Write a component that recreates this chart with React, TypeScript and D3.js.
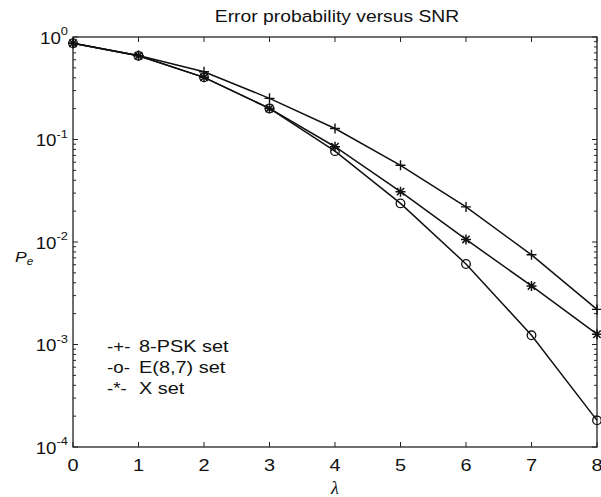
import React from "react";
import * as d3 from "d3";

const lambdas = [0, 1, 2, 3, 4, 5, 6, 7, 8];
const pskSet = [0.87, 0.66, 0.458, 0.252, 0.128, 0.056, 0.022, 0.0075, 0.0022];
const e87Set = [0.87, 0.655, 0.404, 0.201, 0.077, 0.0238, 0.0061, 0.00123, 0.000182];
const xSet = [0.87, 0.655, 0.404, 0.201, 0.085, 0.031, 0.0106, 0.00373, 0.00126];
const yExponents = [0, -1, -2, -3, -4];
const legendItems = [
  { mark: "-+-", label: "8-PSK set" },
  { mark: "-o-", label: "E(8,7) set" },
  { mark: "-*-", label: "X set" },
];

const W = 601;
const H = 497;
const margin = { top: 37, right: 4, bottom: 50, left: 73 };
const SX = 1.17; // the source figure is stretched horizontally
const FONT = "'Liberation Sans', Arial, Helvetica, sans-serif";
const INK = "#111";

const Txt = ({ x, y, size, anchor = "start", children, style = {} }: any) => (
  <text
    transform={`translate(${x},${y}) scale(${SX},1)`}
    fontSize={size}
    fontFamily={FONT}
    textAnchor={anchor}
    fill={INK}
    style={style}
  >
    {children}
  </text>
);

const Marker = ({ kind, x, y }: any) => {
  const s = 5;
  if (kind === "plus")
    return <path d={`M${x - s},${y}H${x + s}M${x},${y - s}V${y + s}`} stroke={INK} strokeWidth={1.4} />;
  if (kind === "circle")
    return <circle cx={x} cy={y} r={4.3} fill="none" stroke={INK} strokeWidth={1.3} />;
  const d = 3.7;
  return (
    <path
      d={`M${x - s},${y}H${x + s}M${x},${y - s}V${y + s}M${x - d},${y - d}L${x + d},${y + d}M${x - d},${y + d}L${x + d},${y - d}`}
      stroke={INK}
      strokeWidth={1.5}
    />
  );
};

export default function App() {
  const innerW = W - margin.left - margin.right;
  const innerH = H - margin.top - margin.bottom;
  const x = d3.scaleLinear().domain([0, 8]).range([margin.left, margin.left + innerW]);
  const y = d3.scaleLog().domain([1e-4, 1]).range([margin.top + innerH, margin.top]);

  const series = [
    { values: pskSet, kind: "plus" },
    { values: xSet, kind: "star" },
    { values: e87Set, kind: "circle" },
  ];
  const line = d3
    .line<number>()
    .x((_, i) => x(lambdas[i]))
    .y((v) => y(v));

  const minor: number[] = [];
  yExponents.slice(0, -1).forEach((e) => {
    for (let k = 2; k <= 9; k++) minor.push(k * Math.pow(10, e - 1));
  });

  const x0 = x(0), x1 = x(8), yb = y(1e-4), yt = y(1);

  return (
    <div style={{ position: "absolute", left: 0, top: 0 }}>
      <svg width={W} height={H} style={{ display: "block", background: "#fff" }}>
        <rect x={0} y={0} width={W} height={H} fill="#fff" />
        {/* frame */}
        <rect x={x0} y={yt} width={x1 - x0} height={yb - yt} fill="none" stroke="#222" strokeWidth={1.3} />
        {/* x ticks, inside on bottom and top */}
        {lambdas.map((l) => (
          <g key={"xt" + l}>
            <line x1={x(l)} x2={x(l)} y1={yb} y2={yb - 5} stroke="#222" />
            <line x1={x(l)} x2={x(l)} y1={yt} y2={yt + 5} stroke="#222" />
            <Txt x={x(l)} y={471} size={17} anchor="middle">{l}</Txt>
          </g>
        ))}
        {/* y ticks */}
        {yExponents.map((e) => {
          const yy = y(Math.pow(10, e));
          return (
            <g key={"yt" + e}>
              <line x1={x0} x2={x0 + 5} y1={yy} y2={yy} stroke="#222" />
              <line x1={x1} x2={x1 - 5} y1={yy} y2={yy} stroke="#222" />
              <Txt x={x0 - 5} y={yy + 6.5} size={16} anchor="end">
                <tspan>10</tspan>
                <tspan fontSize={11} dy={-8.5}>{e}</tspan>
              </Txt>
            </g>
          );
        })}
        {minor.map((v, i) => (
          <g key={"mt" + i}>
            <line x1={x0} x2={x0 + 3} y1={y(v)} y2={y(v)} stroke="#222" />
            <line x1={x1} x2={x1 - 3} y1={y(v)} y2={y(v)} stroke="#222" />
          </g>
        ))}
        {/* series */}
        {series.map((s, si) => (
          <g key={"s" + si}>
            <path d={line(s.values) || ""} fill="none" stroke={INK} strokeWidth={1.5} />
            {s.values.map((v, i) => (
              <Marker key={i} kind={s.kind} x={x(lambdas[i])} y={y(v)} />
            ))}
          </g>
        ))}
        {/* legend */}
        {legendItems.map((it, i) => (
          <g key={"lg" + i}>
            <Txt x={107} y={352 + i * 20.8} size={16}>{it.mark}</Txt>
            <Txt x={139} y={352 + i * 20.8} size={17}>{it.label}</Txt>
          </g>
        ))}
        {/* title and axis labels */}
        <Txt x={(x0 + x1) / 2 + 2} y={22} size={16.5} anchor="middle">Error probability versus SNR</Txt>
        <text
          x={(x0 + x1) / 2}
          y={494}
          fontSize={18}
          fontStyle="italic"
          fontFamily="'Liberation Serif', 'Times New Roman', serif"
          textAnchor="middle"
          fill={INK}
        >
          λ
        </text>
        <Txt x={15} y={262} size={15} style={{ fontStyle: "italic" }}>
          <tspan>P</tspan>
          <tspan fontSize={10} dy={3}>e</tspan>
        </Txt>
      </svg>
    </div>
  );
}
